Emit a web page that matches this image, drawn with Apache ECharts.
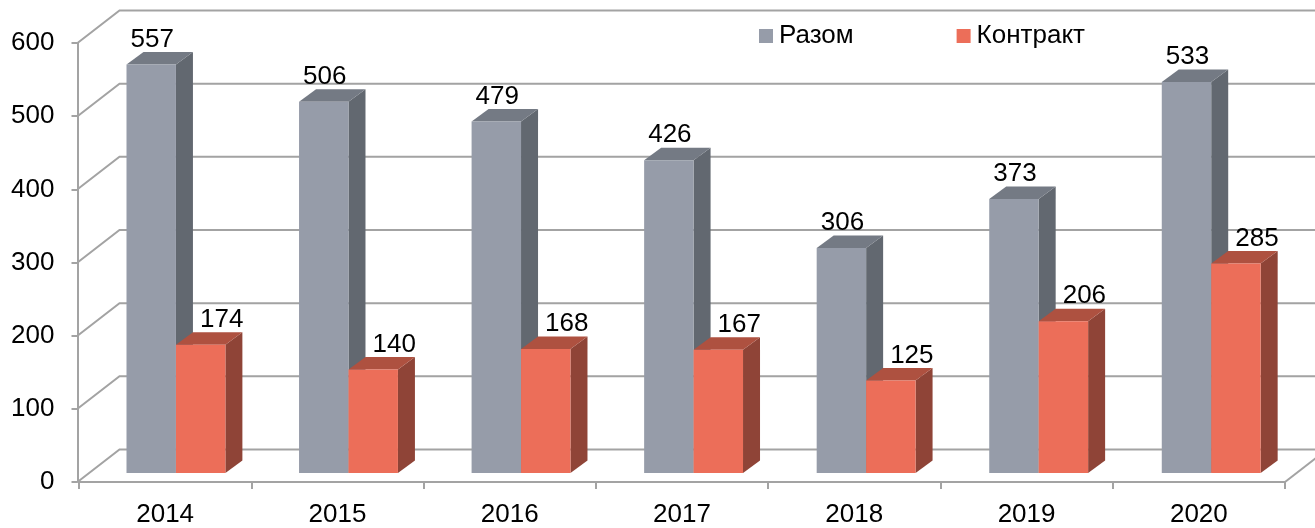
<!DOCTYPE html>
<html>
<head>
<meta charset="utf-8">
<style>html,body{margin:0;padding:0;background:#fff}#c{width:1315px;height:528px}</style>
<script src="https://cdn.jsdelivr.net/npm/echarts@6/dist/echarts.min.js"></script>
</head>
<body>
<div id="c"></div>
<script>
const categories = ['2014','2015','2016','2017','2018','2019','2020'];
const razom = [557,506,479,426,306,373,533];
const kontrakt = [174,140,168,167,125,206,285];
const ticks = [0,100,200,300,400,500,600];

const FONT = '"Liberation Sans", Arial, sans-serif';
const LINE = '#A3A3A3';
const chart = echarts.init(document.getElementById('c'));

function bars(side, front, sideC, topC, labelDx) {
  return function (params, api) {
    const i = api.value(0), v = api.value(1);
    const band = api.size([1, 0])[0];
    const w = band * 0.287;
    const c = api.coord([i, v]);
    const z = api.coord([i, 0]);
    const cx = c[0] + 10.8 + i * 0.26;
    const x0 = side === 0 ? cx - w : cx;
    const x1 = x0 + w;
    const yT = c[1] - 10, yB = z[1] - 9;
    const dx = 17, dy = 12.5;
    return {
      type: 'group',
      children: [
        {type:'polygon', shape:{points:[[x1,yT],[x1+dx,yT-dy],[x1+dx,yB-dy],[x1,yB]]}, style:{fill:sideC}},
        {type:'polygon', shape:{points:[[x0,yT],[x0+dx,yT-dy],[x1+dx,yT-dy],[x1,yT]]}, style:{fill:topC}},
        {type:'rect', shape:{x:x0,y:yT,width:w,height:yB-yT}, style:{fill:front}},
        {type:'text', z2:50, style:{text:String(v), x:(x0+x1)/2+labelDx, y:yT-25, align:'center', verticalAlign:'middle',
          font:'26px '+FONT, fill:'#000'}}
      ]
    };
  };
}

function wall(params, api) {
  const p = api.coord([0, api.value(0)]);
  const left = params.coordSys.x - 1.5;
  const dx = 42, dy = 32.5;
  return {
    type:'polyline',
    shape:{points:[[left,p[1]],[left+dx,p[1]-dy],[1330,p[1]-dy]]},
    style:{fill:null, stroke:LINE, lineWidth:2}
  };
}

function floorRight(params, api) {
  const y = api.coord([0, api.value(0)])[1];
  const x = params.coordSys.x + params.coordSys.width;
  return {type:'line', shape:{x1:x,y1:y,x2:x+42,y2:y-32.5}, style:{stroke:LINE, lineWidth:2}};
}

chart.setOption({
  animation:false,
  backgroundColor:'#fff',
  grid:{left:79, right:30, top:43, height:439},
  legend:{
    data:['Разом','Контракт'], left:754, top:18, icon:'rect', itemWidth:14, itemHeight:14, itemGap:103, selectedMode:false,
    textStyle:{fontFamily:FONT, fontSize:26, color:'#000', padding:[0,0,0,1]}
  },
  xAxis:{
    type:'category', data:categories,
    axisLine:{lineStyle:{color:LINE,width:2}},
    axisTick:{show:true,length:7,lineStyle:{color:LINE,width:2}},
    axisLabel:{fontFamily:FONT,fontSize:26,color:'#000',margin:20}
  },
  yAxis:{
    type:'value', min:0, max:600, interval:100, offset:1.5,
    axisLine:{show:true,lineStyle:{color:LINE,width:2}},
    axisTick:{show:true,length:6,lineStyle:{color:LINE,width:2}},
    axisLabel:{fontFamily:FONT,fontSize:26,color:'#000',margin:23,padding:[2,0,0,0]},
    splitLine:{show:false}
  },
  series:[
    {type:'custom', name:'wall', silent:true, clip:false, z:1, data:ticks.map(t=>[t]), encode:{y:0}, renderItem:wall},
    {type:'custom', name:'floor', silent:true, clip:false, z:1, data:[[0]], encode:{y:0}, renderItem:floorRight},
    {type:'custom', name:'Разом', clip:false, z:2, itemStyle:{color:'#969CA9'},
      data:razom.map((v,i)=>[i,v]), encode:{x:0,y:1}, renderItem:bars(0,'#969CA9','#626870','#747A84',1)},
    {type:'custom', name:'Контракт', clip:false, z:3, itemStyle:{color:'#EC6E59'},
      data:kontrakt.map((v,i)=>[i,v]), encode:{x:0,y:1}, renderItem:bars(1,'#EC6E59','#8F4437','#AE5140',21)}
  ]
});
</script>
</body>
</html>
